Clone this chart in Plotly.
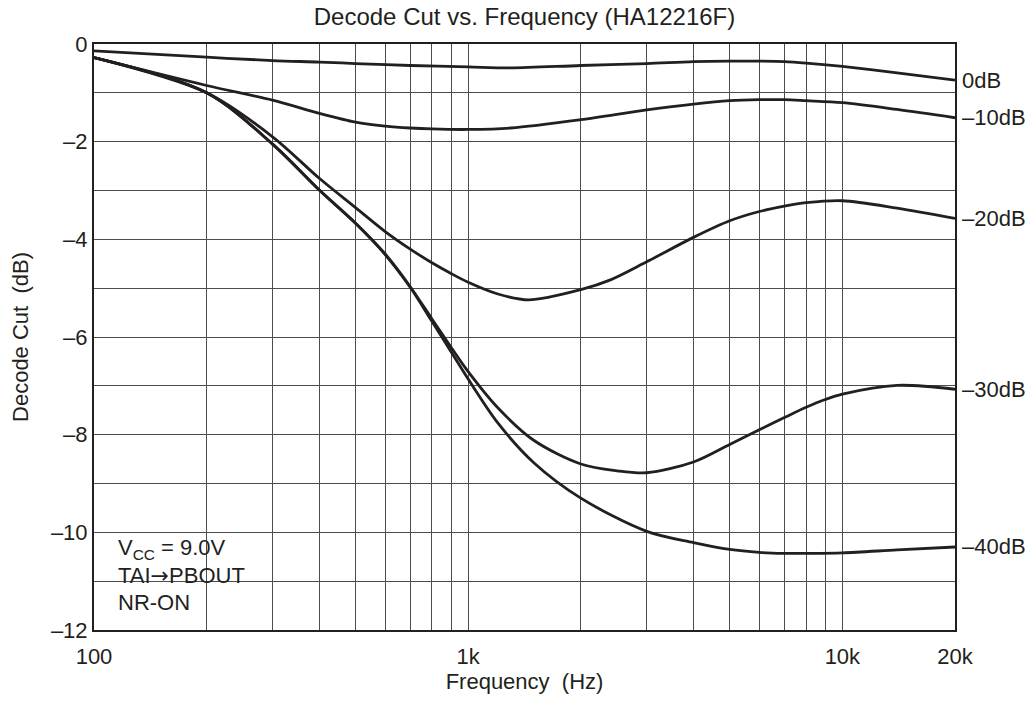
import math
import plotly.graph_objects as go

# ---- data ----
freq_0dB = [100, 200, 300, 400, 500, 700, 1000, 1300, 2000, 3000, 4000, 5000, 6000, 7000, 8000, 10000, 14000, 20000]
cut_0dB = [-0.14, -0.27, -0.34, -0.37, -0.40, -0.44, -0.47, -0.49, -0.44, -0.40, -0.36, -0.35, -0.35, -0.36, -0.39, -0.46, -0.59, -0.74]

freq_10dB = [100, 200, 300, 400, 500, 600, 700, 800, 1000, 1300, 2000, 3000, 4000, 5000, 6000, 7000, 8000, 10000, 14000, 20000]
cut_10dB = [-0.28, -0.85, -1.15, -1.42, -1.60, -1.68, -1.72, -1.74, -1.75, -1.72, -1.55, -1.35, -1.23, -1.16, -1.14, -1.14, -1.16, -1.20, -1.34, -1.51]

freq_20dB = [100, 200, 300, 400, 500, 600, 700, 800, 900, 1000, 1200, 1450, 2000, 2400, 3000, 4000, 5000, 6000, 7000, 8000, 10000, 14000, 20000]
cut_20dB = [-0.28, -1.0, -1.9, -2.75, -3.35, -3.84, -4.20, -4.48, -4.70, -4.88, -5.12, -5.24, -5.03, -4.83, -4.46, -3.96, -3.62, -3.43, -3.32, -3.25, -3.21, -3.36, -3.57]

freq_30dB = [100, 200, 300, 400, 500, 600, 700, 800, 900, 1000, 1200, 1500, 2000, 2500, 3000, 4000, 5000, 6000, 7000, 8000, 9000, 10000, 14000, 20000]
cut_30dB = [-0.28, -1.0, -2.05, -2.99, -3.67, -4.30, -4.97, -5.63, -6.21, -6.71, -7.45, -8.12, -8.60, -8.74, -8.78, -8.56, -8.20, -7.90, -7.65, -7.44, -7.28, -7.17, -6.99, -7.07]

freq_40dB = [100, 200, 300, 400, 500, 600, 700, 800, 900, 1000, 1200, 1500, 2000, 3000, 4000, 5000, 6000, 7000, 8000, 10000, 14000, 20000]
cut_40dB = [-0.28, -1.0, -2.05, -2.99, -3.67, -4.31, -4.98, -5.68, -6.30, -6.86, -7.76, -8.58, -9.30, -9.98, -10.21, -10.35, -10.41, -10.43, -10.43, -10.42, -10.36, -10.30]

series_names = ["0dB", "\u201310dB", "\u201320dB", "\u201330dB", "\u201340dB"]
series_freqs = [freq_0dB, freq_10dB, freq_20dB, freq_30dB, freq_40dB]
series_cuts = [cut_0dB, cut_10dB, cut_20dB, cut_30dB, cut_40dB]

x_tick_vals = [100, 200, 300, 400, 500, 600, 700, 800, 900,
               1000, 2000, 3000, 4000, 5000, 6000, 7000, 8000, 9000,
               10000, 20000]
x_tick_text = ["100", "", "", "", "", "", "", "", "",
               "1k", "", "", "", "", "", "", "", "",
               "10k", "20k"]
y_tick_vals = list(range(-12, 1))
y_tick_text = [("\u2013" + str(-v) if v < 0 else "0") if v % 2 == 0 else "" for v in y_tick_vals]

condition_lines = ["V<sub>CC</sub> = 9.0V",
                   "TAI<span style=\"font-family:'DejaVu Sans'\">\u2192</span>PBOUT",
                   "NR-ON"]

# ---- styling ----
FONT = "Liberation Sans, Arial, Helvetica, sans-serif"
INK = "#231f20"
GRID = "#4d4d4d"
FS = 22

# the page body adds an 8px offset, so the figure is sized to fit inside the window
OFF = 8
W, H = 1035 - OFF, 704 - OFF
ML, MR, MT, MB = 86, 80, 36, 74
PW, PH = W - ML - MR, H - MT - MB


def px_x(px):
    return (px - OFF - ML) / PW


def px_y(py):
    return (H - MB - (py - OFF)) / PH


fig = go.Figure()
for name, fx, fy in zip(series_names, series_freqs, series_cuts):
    fig.add_trace(go.Scatter(
        x=fx, y=fy, mode="lines", name=name,
        line=dict(color=INK, width=2.8, shape="spline", smoothing=0.9),
        showlegend=False, hoverinfo="x+y",
    ))
    fig.add_annotation(
        x=1, xref="paper", y=fy[-1], yref="y",
        text=name, showarrow=False, xanchor="left", yanchor="middle",
        xshift=5, font=dict(family=FONT, size=FS, color=INK),
    )

# white patch behind the condition text (hides grid lines there)
fig.add_shape(type="rect", xref="paper", yref="paper",
              x0=px_x(103), x1=px_x(267), y0=px_y(593), y1=px_y(534),
              fillcolor="white", line=dict(width=0), layer="between")

for line_text, cy in zip(condition_lines, [549, 575.5, 602.5]):
    fig.add_annotation(
        x=px_x(116), xref="paper", y=px_y(cy), yref="paper",
        text=line_text, showarrow=False, xanchor="left", yanchor="middle",
        align="left", font=dict(family=FONT, size=FS, color=INK),
    )

fig.update_layout(
    width=W, height=H,
    margin=dict(l=ML, r=MR, t=MT, b=MB, autoexpand=False),
    paper_bgcolor="white", plot_bgcolor="white",
    font=dict(family=FONT, size=FS, color=INK),
    title=dict(
        text="Decode Cut vs. Frequency (HA12216F)",
        x=0.5, xref="paper", xanchor="center",
        y=1, yref="container", yanchor="top",
        pad=dict(t=0, b=0, l=0, r=0),
        font=dict(family=FONT, size=24, color=INK),
        automargin=False,
    ),
    xaxis=dict(
        type="log", range=[2, math.log10(20000)],
        tickmode="array", tickvals=x_tick_vals, ticktext=x_tick_text,
        showgrid=True, gridcolor=GRID, gridwidth=1,
        showline=True, linecolor=INK, linewidth=2, mirror=True,
        ticks="", zeroline=False, ticklabelstandoff=6, automargin=False,
        tickfont=dict(family=FONT, size=FS, color=INK),
        title=dict(text="Frequency\u00a0 (Hz)", standoff=4,
                   font=dict(family=FONT, size=FS, color=INK)),
    ),
    yaxis=dict(
        range=[-12, 0],
        tickmode="array", tickvals=y_tick_vals, ticktext=y_tick_text,
        showgrid=True, gridcolor=GRID, gridwidth=1,
        showline=True, linecolor=INK, linewidth=2, mirror=True,
        ticks="", zeroline=False, automargin=False,
        tickfont=dict(family=FONT, size=FS, color=INK),
        title=dict(text="Decode Cut\u00a0 (dB)", standoff=17,
                   font=dict(family=FONT, size=FS, color=INK)),
    ),
)

fig.write_html("out.html")
